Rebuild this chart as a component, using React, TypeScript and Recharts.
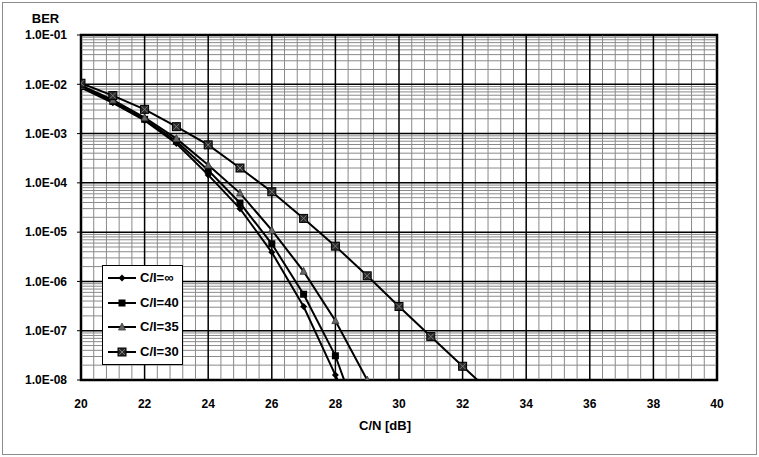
import React from 'react';
import { LineChart, Line, XAxis, YAxis, ReferenceLine, ReferenceArea } from 'recharts';

// C/N [dB] values
const cn = [20, 21, 22, 23, 24, 25, 26, 27, 28, 29, 30, 31, 32, 33];
// BER per interference level (last points fall below the plotted range)
const berInf = [8.5e-3, 4.2e-3, 1.85e-3, 6.3e-4, 1.45e-4, 3.0e-5, 3.9e-6, 3.1e-7, 1.26e-8, 5e-10];
const ber40 = [9.0e-3, 4.5e-3, 1.95e-3, 7.0e-4, 1.8e-4, 3.9e-5, 5.8e-6, 5.5e-7, 3.1e-8, 5e-10];
const ber35 = [9.5e-3, 4.8e-3, 2.1e-3, 7.9e-4, 2.3e-4, 6.2e-5, 1.1e-5, 1.6e-6, 1.6e-7, 1.0e-8];
const ber30 = [1.05e-2, 5.9e-3, 3.1e-3, 1.38e-3, 5.9e-4, 2.0e-4, 6.6e-5, 1.9e-5, 5.2e-6, 1.3e-6, 3.1e-7, 7.6e-8, 1.9e-8, 4.8e-9];

const seriesNames = ['C/I=∞', 'C/I=40', 'C/I=35', 'C/I=30'];

const xTicks = [20, 22, 24, 26, 28, 30, 32, 34, 36, 38, 40];
const yTicks = [1e-8, 1e-7, 1e-6, 1e-5, 1e-4, 1e-3, 1e-2, 1e-1];

const xMinor: number[] = [];
for (let i = 1; i < 50; i++) {
  const v = Math.round((20 + i * 0.4) * 10) / 10;
  if (Math.abs(v / 2 - Math.round(v / 2)) > 1e-6) xMinor.push(v);
}
const yMinor: number[] = [];
for (let d = 0; d < yTicks.length - 1; d++) {
  for (let m = 2; m <= 9; m++) yMinor.push(m * yTicks[d]);
}

const toPts = (ber: number[]) => ber.map((y, i) => ({ x: cn[i], y }));

const fmtY = (v: number) => {
  const e = Math.round(Math.log10(v));
  return `1.0E${e < 0 ? '-' : '+'}${String(Math.abs(e)).padStart(2, '0')}`;
};

const FONT = '"Liberation Sans", Arial, sans-serif';

const Diamond = ({ cx, cy }: any) =>
  cx == null || cy == null ? null : (
    <polygon points={`${cx},${cy - 3.5} ${cx + 3.5},${cy} ${cx},${cy + 3.5} ${cx - 3.5},${cy}`} fill="#000" />
  );
const Square = ({ cx, cy }: any) =>
  cx == null || cy == null ? null : <rect x={cx - 3.5} y={cy - 3.5} width={7} height={7} fill="#000" />;
const Tri = ({ cx, cy }: any) =>
  cx == null || cy == null ? null : (
    <polygon points={`${cx},${cy - 4} ${cx + 3.5},${cy + 3} ${cx - 3.5},${cy + 3}`} fill="#666" stroke="#333" strokeWidth={0.8} />
  );
const SquareX = ({ cx, cy }: any) =>
  cx == null || cy == null ? null : (
    <g>
      <rect x={cx - 4} y={cy - 4} width={8} height={8} fill="#2a2a2a" stroke="#000" strokeWidth={1} />
      <line x1={cx - 3} y1={cy - 3} x2={cx + 3} y2={cy + 3} stroke="#777" strokeWidth={1} />
      <line x1={cx - 3} y1={cy + 3} x2={cx + 3} y2={cy - 3} stroke="#777" strokeWidth={1} />
    </g>
  );

const markers = [Diamond, Square, Tri, SquareX];

const LegendBox = () => (
  <div
    style={{
      position: 'absolute',
      left: 102,
      top: 265,
      width: 81,
      height: 100,
      boxSizing: 'border-box',
      border: '1px solid #000',
      background: '#fff',
      fontFamily: FONT,
      fontWeight: 'bold',
      fontSize: 13,
    }}
  >
    {seriesNames.map((n, i) => {
      const M = markers[i];
      return (
        <div key={n} style={{ height: 24.5, display: 'flex', alignItems: 'center' }}>
          <svg width={32} height={24} style={{ marginLeft: 5, flex: 'none' }}>
            <line x1={0} y1={12} x2={28} y2={12} stroke="#000" strokeWidth={2} />
            <M cx={14} cy={12} />
          </svg>
          <span style={{ lineHeight: '24px', whiteSpace: 'nowrap' }}>{n}</span>
        </div>
      );
    })}
  </div>
);

export default function App() {
  const all = [berInf, ber40, ber35, ber30];
  return (
    <div style={{ position: 'fixed', left: 0, top: 0, width: 759, height: 457, background: '#fff' }}>
      <div
        style={{
          position: 'absolute',
          left: 2,
          top: 2,
          width: 755,
          height: 453,
          boxSizing: 'border-box',
          border: '1px solid #8c8c8c',
        }}
      />
      <LineChart width={759} height={457} margin={{ top: 35, right: 42, left: 6, bottom: 32 }}>
        <XAxis
          type="number"
          dataKey="x"
          domain={[20, 40]}
          ticks={xTicks}
          allowDataOverflow
          axisLine={false}
          tickLine={false}
          tickSize={0}
          tickMargin={19}
          height={45}
          tick={{ fontFamily: FONT, fontWeight: 'bold', fontSize: 12, fill: '#000' }}
          label={{
            value: 'C/N [dB]',
            position: 'bottom',
            offset: -4,
            dx: -14,
            style: { fontFamily: FONT, fontWeight: 'bold', fontSize: 13, fill: '#000' },
          }}
        />
        <YAxis
          type="number"
          dataKey="y"
          scale="log"
          domain={[1e-8, 1e-1]}
          ticks={yTicks}
          allowDataOverflow
          width={75}
          axisLine={false}
          tickLine={{ stroke: '#000' }}
          tickSize={4}
          tickMargin={10}
          tickFormatter={fmtY}
          tick={{ fontFamily: FONT, fontWeight: 'bold', fontSize: 12, fill: '#000' }}
          label={{
            value: 'BER',
            position: 'top',
            offset: 12,
            dx: 2,
            style: { fontFamily: FONT, fontWeight: 'bold', fontSize: 13, fill: '#000' },
          }}
        />
        {xMinor.map((v) => (
          <ReferenceLine key={'xm' + v} x={v} stroke="#8a8a8a" strokeWidth={1} />
        ))}
        {yMinor.map((v) => (
          <ReferenceLine key={'ym' + v} y={v} stroke="#8a8a8a" strokeWidth={1} />
        ))}
        {xTicks.map((v) => (
          <ReferenceLine key={'xM' + v} x={v} stroke="#000" strokeWidth={1.5} />
        ))}
        {yTicks.map((v) => (
          <ReferenceLine key={'yM' + v} y={v} stroke="#000" strokeWidth={1.5} />
        ))}
        <ReferenceArea x1={20} x2={40} y1={1e-8} y2={1e-1} fill="none" stroke="#000" strokeWidth={2.5} />
        {all.map((ber, i) => {
          const M = markers[i];
          return (
            <Line
              key={seriesNames[i]}
              name={seriesNames[i]}
              data={toPts(ber)}
              dataKey="y"
              type="linear"
              stroke="#000"
              strokeWidth={2}
              dot={(p: any) => <M key={p.index} cx={p.cx} cy={p.cy} />}
              activeDot={false}
              isAnimationActive={false}
            />
          );
        })}
      </LineChart>
      <LegendBox />
    </div>
  );
}
